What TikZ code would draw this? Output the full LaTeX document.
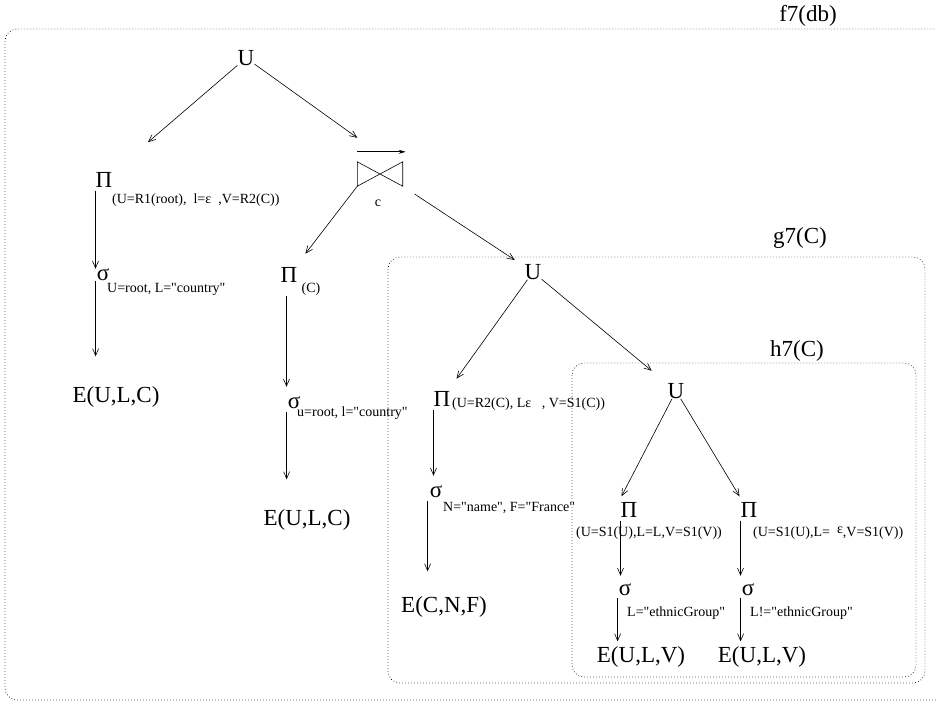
\documentclass[tikz,border=0pt]{standalone}
\usepackage{fontspec}
\setmainfont{Liberation Serif}[Ligatures=TeXOff]
\usetikzlibrary{arrows.meta,calc}
\begin{document}
\begin{tikzpicture}[x=1pt,y=-1pt,
  big/.style={inner sep=0pt,font=\fontsize{23}{26}\selectfont},
  sub/.style={inner sep=0pt,anchor=west,font=\fontsize{14}{16}\selectfont},
  arr/.style={draw,line width=0.6pt,-{Straight Barb[length=7pt,width=6pt]}},
  joinarr/.style={draw,line width=0.9pt,-{Stealth[length=7pt,width=4pt]}},
  box/.style={draw,line width=0.7pt,dash pattern=on 0.7pt off 2.3pt,rounded corners=12pt},
  ]
\useasboundingbox (0,0) rectangle (936,702);
% boxes
\draw[box] (5,29) rectangle (948,700);
\draw[box] (388,257) rectangle (925,683);
\draw[box] (572,363) rectangle (916,677);
\node[big] (f7) at (808,16) {f7(db)};
\node[big] (g7) at (800,238) {g7(C)};
\node[big] (h7) at (797,351) {h7(C)};
% root
\node[big] (rootU) at (246,58) {U};
% left branch
\node[big] (piL) at (104,180) {Π};
\node[sub] (piLs) at (112,200) {(U=R1(root),\ \ l=ε\ \ ,V=R2(C))};
\node[big] (sigL) at (103,275) {σ};
\node[sub] (sigLs) at (107,289) {U=root, L="country"};
\node[big] (E1) at (116,397) {E(U,L,C)};
% join
\node[minimum width=45pt,minimum height=24pt,inner sep=0pt] (join) at (380,174) {};
\draw[line width=0.6pt] (join.north west) -- (join.south east) -- (join.north east) -- (join.south west) -- cycle;
\draw[joinarr] ([yshift=10pt]join.north west) -- ([yshift=10pt,xshift=3pt]join.north east);
\node[sub,anchor=center] (cc) at (378,203) {c};
% middle branch
\node[big] (piC) at (289,275) {Π};
\node[sub,anchor=center] (piCs) at (311,289) {(C)};
\node[big] (sigC) at (294,403) {σ};
\node[sub] (sigCs) at (297,413) {u=root, l="country"};
\node[big] (E2) at (307,520) {E(U,L,C)};
% g7
\node[big] (U2) at (533,272) {U};
\node[big] (piM) at (442,399) {Π};
\node[sub] (piMs) at (452,404) {(U=R2(C), Lε\ \ \ , V=S1(C))};
\node[big] (sigM) at (436,492) {σ};
\node[sub] (sigMs) at (443,508) {N="name", F="France"};
\node[big] (E3) at (444,607) {E(C,N,F)};
% h7
\node[big] (U3) at (676,391) {U};
\node[big] (piA) at (629,510) {Π};
\node[sub,anchor=center] (piAs) at (649,533) {(U=S1(U),L=L,V=S1(V))};
\node[big] (piB) at (749,510) {Π};
\node[sub] (piBs) at (753,533) {(U=S1(U),L=\ \ \raisebox{3pt}{ε},V=S1(V))};
\node[big] (sigA) at (625,590) {σ};
\node[sub] (sigAs) at (627,613) {L="ethnicGroup"};
\node[big] (sigB) at (748,590) {σ};
\node[sub] (sigBs) at (750,613) {L!="ethnicGroup"};
\node[big] (E4) at (641,657) {E(U,L,V)};
\node[big] (E5) at (762,657) {E(U,L,V)};
% connectors
\draw[arr] (rootU) -- ($(rootU)!0.69!(piL)$);
\draw[arr] (rootU) -- ([yshift=24pt]join.north west);
\draw[arr] ([yshift=-3pt]piL.south west) -- (piL.south west |- sigL.north);
\draw[arr] ([xshift=-1pt]sigL.south west) -- ([xshift=-1pt]sigL.south west |- E1.north) [shorten >=30pt];
\draw[arr] (join.south west) -- ($(join.south west)!0.76!(piC)$);
\draw[arr] ($(join.south east)!0.09!(U2)$) -- ($(join.south east)!0.86!(U2)$);
\draw[arr] ([xshift=6pt,yshift=-13pt]piC.south west) -- ([xshift=6pt]piC.south west |- sigC.north) [shorten >=10pt];
\draw[arr] ([xshift=-1pt,yshift=-3pt]sigC.south west) -- ([xshift=-1pt]sigC.south west |- E2.north) [shorten >=30pt];
\draw[arr] (U2) -- ($(U2)!0.84!(piM)$);
\draw[arr] (U2) -- ($(U2)!0.83!(U3)$);
\draw[arr] ([yshift=-3pt]piM.south west) -- (piM.south west |- sigM.north) [shorten >=10pt];
\draw[arr] ([xshift=-2pt,yshift=-3pt]sigM.south west) -- ([xshift=-2pt]sigM.south west |- E3.north) [shorten >=25pt];
\draw[arr] (U3) -- ([shift={(1pt,6pt)}]piA.north west);
\draw[arr] (U3) -- ([shift={(-1pt,6pt)}]piB.north west);
\draw[arr] ([yshift=-3pt]piA.south west) -- (piA.south west |- sigA.north) [shorten >=8pt];
\draw[arr] ([yshift=-3pt]piB.south west) -- (piB.south west |- sigB.north) [shorten >=8pt];
\draw[arr] ([xshift=-1pt,yshift=-2pt]sigA.south west) -- ([xshift=-1pt]sigA.south west |- E4.north) [shorten >=5pt];
\draw[arr] ([xshift=-1pt,yshift=-2pt]sigB.south west) -- ([xshift=-1pt]sigB.south west |- E5.north) [shorten >=5pt];
\end{tikzpicture}
\end{document}
